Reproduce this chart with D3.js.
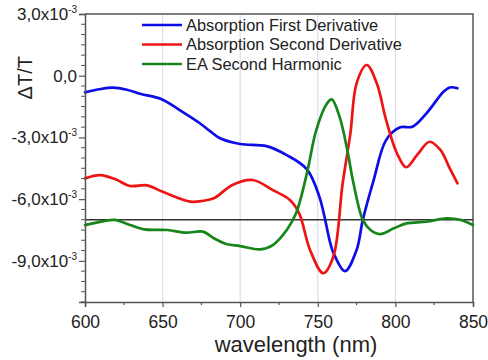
<!DOCTYPE html>
<html lang="en">
<head>
<meta charset="UTF-8">
<title>Absorption derivatives vs EA second harmonic</title>
<style>
  body { margin: 0; background: #fff; }
  text { font-family: "Liberation Sans", Arial, sans-serif; fill: #222; }
  .line { fill: none; stroke-width: 2.7px; stroke-linejoin: round; stroke-linecap: round; }
</style>
</head>
<body>
<div id="chart"></div>
<script src="https://d3js.org/d3.v7.min.js"></script>
<script>
// values are in units of 1e-3
const firstDerivNm = [600, 609, 618, 627, 636, 649, 661, 674, 681, 687, 700, 717, 730, 743, 751, 758, 760, 767.5, 775, 779, 786, 794, 803, 811, 820, 831, 835, 840];
const firstDerivVal = [-0.81, -0.66, -0.58, -0.68, -0.89, -1.13, -1.67, -2.31, -2.72, -3.04, -3.32, -3.42, -3.86, -4.55, -5.88, -8.13, -8.6, -9.5, -8.47, -7.01, -5.07, -3.13, -2.51, -2.48, -1.83, -0.78, -0.57, -0.61];

const secondDerivNm = [600, 610, 620, 629, 640, 650, 668, 676, 683, 695, 708, 721, 732, 738, 745, 753.5, 760, 766, 771, 775, 781.5, 788, 794, 801, 807, 814, 822, 829, 835, 840];
const secondDerivVal = [-4.99, -4.83, -5.05, -5.36, -5.33, -5.64, -6.12, -6.08, -5.96, -5.31, -5.07, -5.56, -6.04, -6.69, -8.47, -9.6, -8.8, -5.24, -2.8, -0.37, 0.52, -0.37, -2.15, -3.77, -4.45, -3.85, -3.21, -3.61, -4.5, -5.23];

const eaNm = [600, 607.5, 619, 629, 638, 653, 665, 676, 683, 691, 700, 713, 721, 730, 736, 743, 749, 756, 759, 764, 769, 773, 779, 784, 790, 799, 807, 820, 833, 842, 850];
const eaVal = [-7.26, -7.14, -7.01, -7.26, -7.47, -7.5, -7.63, -7.58, -7.9, -8.18, -8.28, -8.44, -8.23, -7.5, -6.69, -4.74, -2.64, -1.34, -1.15, -1.99, -3.61, -5.23, -7.01, -7.5, -7.7, -7.42, -7.18, -7.1, -6.93, -7.01, -7.26];

const seriesNames = ["Absorption First Derivative", "Absorption Second Derivative", "EA Second Harmonic"];
const seriesColors = ["#0d0de8", "#ee1414", "#16861a"];

const xTicks = [600, 650, 700, 750, 800, 850];
const xMinorTicks = [625, 675, 725, 775, 825];
const gridTicks = [650, 700, 750, 800];
const yTicks = [3, 0, -3, -6, -9];
const yTickMantissa = ["3,0x10", "0,0", "-3,0x10", "-6,0x10", "-9,0x10"];
const baselineValue = -7.0;

const width = 488, height = 360;
const margin = {top: 14, right: 15, bottom: 58, left: 85};

const svg = d3.select("#chart").append("svg")
  .attr("width", width)
  .attr("height", height);

const x = d3.scaleLinear().domain([600, 850]).range([margin.left, width - margin.right]);
const y = d3.scaleLinear().domain([-11, 3]).range([height - margin.bottom, margin.top]);

// faint vertical grid
svg.append("g").selectAll("line")
  .data(gridTicks).enter().append("line")
  .attr("x1", d => x(d)).attr("x2", d => x(d))
  .attr("y1", y(3)).attr("y2", y(-11))
  .attr("stroke", "#dcdcf2").attr("stroke-width", 1.2);

// frame (top + right)
svg.append("path")
  .attr("d", `M${x(600)},${y(3)}H${x(850)}V${y(-11)}`)
  .attr("fill", "none").attr("stroke", "#555").attr("stroke-width", 1.5);

// horizontal reference line
svg.append("line")
  .attr("x1", x(600)).attr("x2", x(850))
  .attr("y1", y(baselineValue)).attr("y2", y(baselineValue))
  .attr("stroke", "#333").attr("stroke-width", 1.5);

// curves
const line = d3.line().curve(d3.curveCatmullRom.alpha(0.5));
const series = [
  d3.zip(firstDerivNm, firstDerivVal),
  d3.zip(secondDerivNm, secondDerivVal),
  d3.zip(eaNm, eaVal)
];
series.forEach((s, i) => {
  svg.append("path")
    .attr("class", "line")
    .attr("stroke", seriesColors[i])
    .attr("d", line(s.map(d => [x(d[0]), y(d[1])])));
});

// bottom axis
const xAxis = svg.append("g")
  .attr("transform", `translate(0,${y(-11)})`)
  .call(d3.axisBottom(x).tickValues(xTicks).tickSize(5).tickFormat(d3.format("d")));
xAxis.select(".domain").attr("stroke", "#555").attr("stroke-width", 1.5);
xAxis.selectAll(".tick line").attr("stroke", "#555").attr("stroke-width", 1.2);
xAxis.selectAll("text").style("font-size", "17.5px").attr("dy", "1.05em").attr("fill", "#222");
svg.append("g").selectAll("line")
  .data(xMinorTicks).enter().append("line")
  .attr("x1", d => x(d)).attr("x2", d => x(d))
  .attr("y1", y(-11)).attr("y2", y(-11) + 3)
  .attr("stroke", "#555").attr("stroke-width", 1.2);

// left axis
const yAxis = svg.append("g")
  .attr("transform", `translate(${x(600)},0)`)
  .call(d3.axisLeft(y).tickValues(yTicks).tickSize(6).tickFormat(""));
yAxis.select(".domain").attr("stroke", "#555").attr("stroke-width", 1.5);
yAxis.selectAll(".tick line").attr("stroke", "#555").attr("stroke-width", 1.2);
svg.append("g").selectAll("line")
  .data(d3.range(-11, 3.01, 0.5).filter(v => !yTicks.includes(v)))
  .enter().append("line")
  .attr("x1", x(600) - 4).attr("x2", x(600))
  .attr("y1", d => y(d)).attr("y2", d => y(d))
  .attr("stroke", "#555").attr("stroke-width", 1);

// y tick labels with superscript exponent
yTicks.forEach((v, i) => {
  const t = svg.append("text")
    .attr("x", x(600) - 8)
    .attr("y", y(v) + 6)
    .attr("text-anchor", "end")
    .style("font-size", "17px");
  t.append("tspan").text(yTickMantissa[i]);
  if (v !== 0) {
    t.append("tspan").attr("dy", -7).style("font-size", "10px").text("-3");
  }
});

// axis titles
svg.append("text")
  .attr("transform", `translate(32,${y(0) + 2}) rotate(-90)`)
  .attr("text-anchor", "middle")
  .style("font-size", "20px")
  .text("ΔT/T");

svg.append("text")
  .attr("x", 296)
  .attr("y", 352)
  .attr("text-anchor", "middle")
  .style("font-size", "22px")
  .text("wavelength (nm)");

// legend
const legend = svg.append("g").attr("transform", "translate(142,25)");
seriesNames.forEach((name, i) => {
  const g = legend.append("g").attr("transform", `translate(0,${i * 19.5})`);
  g.append("line").attr("x1", 0).attr("x2", 40).attr("y1", 0).attr("y2", 0)
    .attr("stroke", seriesColors[i]).attr("stroke-width", 2.7);
  g.append("text").attr("x", 44).attr("y", 5.5).style("font-size", "16.4px").text(name);
});
</script>
</body>
</html>
